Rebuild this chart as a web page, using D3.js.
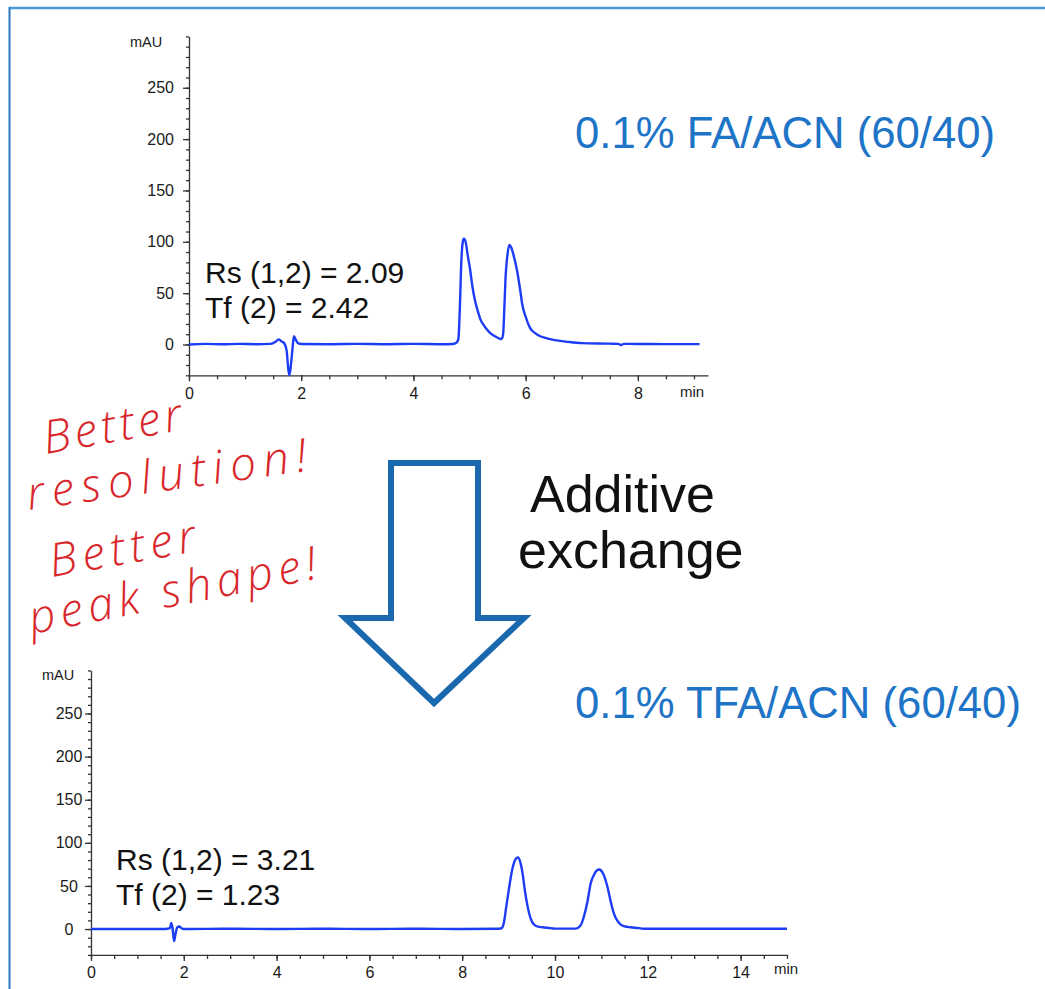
<!DOCTYPE html>
<html>
<head>
<meta charset="utf-8">
<script src="https://cdn.jsdelivr.net/npm/d3@7"></script>
<style>
  html, body { margin: 0; padding: 0; background: #fff; }
  svg { display: block; }
</style>
</head>
<body>
<svg id="chart" width="1045" height="989"></svg>
<script>
// Chromatogram, 0.1% formic acid / acetonitrile (60/40): time (min) and absorbance (mAU)
const faTime = [0.00, 0.30, 0.60, 0.90, 1.20, 1.45, 1.55, 1.60, 1.65, 1.70, 1.74, 1.77, 1.79, 1.82, 1.85, 1.87, 1.90, 1.95, 2.00,
  2.50, 3.00, 3.50, 4.00, 4.50, 4.70, 4.77, 4.80, 4.83, 4.85, 4.88, 4.90, 4.93, 4.97, 5.01, 5.05, 5.10, 5.15, 5.19, 5.25, 5.31,
  5.38, 5.46, 5.55, 5.58, 5.60, 5.62, 5.64, 5.68, 5.71, 5.74, 5.78, 5.85, 5.90, 5.94, 6.00, 6.08, 6.17, 6.26, 6.38, 6.50, 6.75,
  7.00, 7.50, 7.65, 7.70, 7.75, 8.00, 8.50, 9.10];
const faAbs = [0.0, 0.6, 0.2, 0.6, 0.3, 0.6, 3.0, 5.0, 3.0, 1.0, -6.0, -24.0, -30.0, -18.0, -1.0, 8.0, 5.0, 1.0, 0.5,
  0.3, 0.6, 0.3, 0.6, 0.3, 0.5, 2.0, 5.0, 40.0, 76.0, 100.0, 103.0, 100.0, 86.0, 73.0, 57.0, 42.0, 32.0, 25.0, 19.0, 14.5,
  10.5, 7.8, 5.4, 6.0, 11.0, 35.0, 63.0, 89.0, 97.0, 95.0, 88.0, 71.0, 54.0, 39.0, 27.0, 16.0, 11.0, 8.0, 6.0, 4.5, 2.6,
  1.3, 0.8, 0.6, -0.6, 0.6, 0.5, 0.4, 0.4];

// Chromatogram, 0.1% trifluoroacetic acid / acetonitrile (60/40)
const tfaTime = [0.00, 0.80, 1.60, 1.70, 1.73, 1.76, 1.79, 1.82, 1.86, 1.90, 1.95, 2.00, 3.00, 4.00, 5.00, 6.00, 7.00, 8.00, 8.80,
  8.85, 8.90, 8.95, 9.00, 9.05, 9.10, 9.15, 9.20, 9.25, 9.30, 9.35, 9.41, 9.47, 9.55, 9.65, 9.84, 10.00, 10.45, 10.55, 10.62,
  10.70, 10.77, 10.85, 10.95, 11.03, 11.13, 11.20, 11.27, 11.34, 11.41, 11.50, 11.63, 11.81, 11.90, 12.50, 13.50, 15.00];
const tfaAbs = [0.0, 0.0, 0.0, 1.0, 7.0, 0.0, -14.0, -6.0, 2.0, 3.0, 1.0, 0.0, 0.3, 0.0, 0.3, 0.0, 0.3, 0.0, 0.3,
  1.0, 8.0, 26.0, 44.0, 61.0, 74.0, 81.0, 83.0, 78.0, 65.0, 45.0, 26.0, 13.0, 5.0, 2.5, 1.5, 0.5, 0.5, 4.0, 14.0,
  32.0, 53.0, 64.0, 69.0, 65.0, 49.0, 32.0, 18.0, 10.0, 5.4, 3.0, 2.0, 1.0, 0.3, 0.3, 0.3, 0.3];

// Axis ticks and text
const yMajorTicks = [0, 50, 100, 150, 200, 250];
const yMinorTicks = d3.range(-30, 301, 10);
const faXTicks = [0, 2, 4, 6, 8];
const faXMinor = d3.range(0, 9.01, 0.5);
const tfaXTicks = [0, 2, 4, 6, 8, 10, 12, 14];
const tfaXMinor = d3.range(0, 15.01, 0.5);
const yUnit = "mAU";
const xUnit = "min";
const faTitle = "0.1% FA/ACN (60/40)";
const tfaTitle = "0.1% TFA/ACN (60/40)";
const faStats = ["Rs (1,2) = 2.09", "Tf (2) = 2.42"];
const tfaStats = ["Rs (1,2) = 3.21", "Tf (2) = 1.23"];
const arrowLabel = ["Additive", "exchange"];
const notes = ["Better", "resolution!", "Better", "peak shape!"];

const svg = d3.select("#chart");
const FONT = "'Liberation Sans', Arial, Helvetica, sans-serif";
const TRACE = "#1c3cf5";
const TITLE_BLUE = "#1e74c6";

svg.append("rect").attr("width", 1045).attr("height", 989).attr("fill", "#fff");

// slide frame
svg.append("line").attr("x1", 9).attr("x2", 1045).attr("y1", 8).attr("y2", 8)
  .attr("stroke", "#4a9ad6").attr("stroke-width", 2.5);
svg.append("line").attr("x1", 9.5).attr("x2", 9.5).attr("y1", 7).attr("y2", 989)
  .attr("stroke", "#2a78c0").attr("stroke-width", 2);

function panel(cfg) {
  const x = d3.scaleLinear().domain(cfg.xDomain).range(cfg.xRange);
  const y = d3.scaleLinear().domain([-30, 300]).range(cfg.yRange);
  const g = svg.append("g");

  // y axis: minor then major ticks
  g.append("g").attr("transform", `translate(${cfg.xRange[0]},0)`)
    .call(d3.axisLeft(y).tickValues(yMinorTicks).tickSize(3).tickSizeOuter(0).tickFormat(""))
    .call(a => a.selectAll("path,line").attr("stroke", "#333").attr("stroke-width", 1.3));
  const ya = g.append("g").attr("transform", `translate(${cfg.xRange[0]},0)`)
    .call(d3.axisLeft(y).tickValues(yMajorTicks).tickSize(6).tickSizeOuter(0).tickPadding(cfg.yPad))
    .call(a => a.select(".domain").remove())
    .call(a => a.selectAll("line").attr("stroke", "#333").attr("stroke-width", 1.3));
  ya.selectAll("text").attr("font-family", FONT).attr("font-size", 16).attr("fill", "#1a1a1a");
  if (cfg.yLabelCenter != null) {
    ya.selectAll("text").attr("text-anchor", "middle").attr("x", cfg.yLabelCenter - cfg.xRange[0]);
  }

  // x axis: minor then major ticks
  const yb = y(-30);
  g.append("g").attr("transform", `translate(0,${yb})`)
    .call(d3.axisBottom(x).tickValues(cfg.xMinor).tickSize(4).tickSizeOuter(0).tickFormat(""))
    .call(a => a.selectAll("path,line").attr("stroke", "#333").attr("stroke-width", 1.3));
  const xa = g.append("g").attr("transform", `translate(0,${yb})`)
    .call(d3.axisBottom(x).tickValues(cfg.xTicks).tickSize(6).tickSizeOuter(0).tickPadding(6))
    .call(a => a.select(".domain").remove())
    .call(a => a.selectAll("line").attr("stroke", "#333").attr("stroke-width", 1.3));
  xa.selectAll("text").attr("font-family", FONT).attr("font-size", 16).attr("fill", "#1a1a1a");

  g.append("text").attr("x", cfg.unitY[0]).attr("y", cfg.unitY[1])
    .attr("text-anchor", "middle").attr("font-family", FONT).attr("font-size", 14.5).attr("fill", "#1a1a1a")
    .text(yUnit);
  g.append("text").attr("x", cfg.unitX[0]).attr("y", cfg.unitX[1])
    .attr("text-anchor", "middle").attr("font-family", FONT).attr("font-size", 15).attr("fill", "#1a1a1a")
    .text(xUnit);

  // trace
  const pts = cfg.time.map((t, i) => [t, cfg.abs[i]]);
  g.append("path").datum(pts)
    .attr("fill", "none").attr("stroke", TRACE).attr("stroke-width", 2.4)
    .attr("stroke-linejoin", "round")
    .attr("d", d3.line().x(d => x(d[0])).y(d => y(d[1])).curve(d3.curveMonotoneX));

  // statistics
  cfg.stats.forEach((s, i) => {
    g.append("text").attr("x", cfg.statsPos[0]).attr("y", cfg.statsPos[1] + i * 35)
      .attr("font-family", FONT).attr("font-size", 30).attr("fill", "#111").text(s);
  });

  // condition title
  g.append("text").attr("x", cfg.titlePos[0]).attr("y", cfg.titlePos[1])
    .attr("font-family", FONT).attr("font-size", 43.7).attr("fill", TITLE_BLUE).text(cfg.title);
}

panel({
  time: faTime, abs: faAbs,
  xDomain: [0, 9.25], xRange: [189, 708], yRange: [375.3, 36.4],
  xTicks: faXTicks, xMinor: faXMinor, yPad: 9, yLabelCenter: null,
  unitY: [146, 47], unitX: [692, 397],
  stats: faStats, statsPos: [205, 283],
  title: faTitle, titlePos: [575, 148]
});

panel({
  time: tfaTime, abs: tfaAbs,
  xDomain: [0, 15], xRange: [91, 787], yRange: [954.9, 670.4],
  xTicks: tfaXTicks, xMinor: tfaXMinor, yPad: 3, yLabelCenter: 69,
  unitY: [58, 680], unitX: [786, 974],
  stats: tfaStats, statsPos: [116, 870],
  title: tfaTitle, titlePos: [575, 718]
});

// hollow down arrow between the two runs
const arrowPts = [[391, 463], [478, 463], [478, 618], [524, 618], [434, 703], [345, 618], [391, 618]];
svg.append("path")
  .attr("d", d3.line()(arrowPts) + "Z")
  .attr("fill", "none").attr("stroke", "#1a68ad").attr("stroke-width", 6).attr("stroke-linejoin", "miter");

arrowLabel.forEach((s, i) => {
  svg.append("text").attr("x", [530, 518][i]).attr("y", [512, 568][i])
    .attr("font-family", FONT).attr("font-size", 52).attr("fill", "#111").text(s);
});

// handwritten remarks
const notePos = [[46, 454, -10, 140], [29, 510, -8, 282], [52, 577, -10, 148], [32, 634, -11, 292]];
notes.forEach((s, i) => {
  const [nx, ny, rot, len] = notePos[i];
  svg.append("text")
    .attr("transform", `translate(${nx},${ny}) rotate(${rot})`)
    .attr("font-family", "'Open Sans', sans-serif").attr("font-style", "italic").attr("font-weight", 300)
    .attr("font-size", 46).attr("fill", "#d8262b")
    .attr("textLength", len).attr("lengthAdjust", "spacing")
    .text(s);
});
</script>
</body>
</html>
